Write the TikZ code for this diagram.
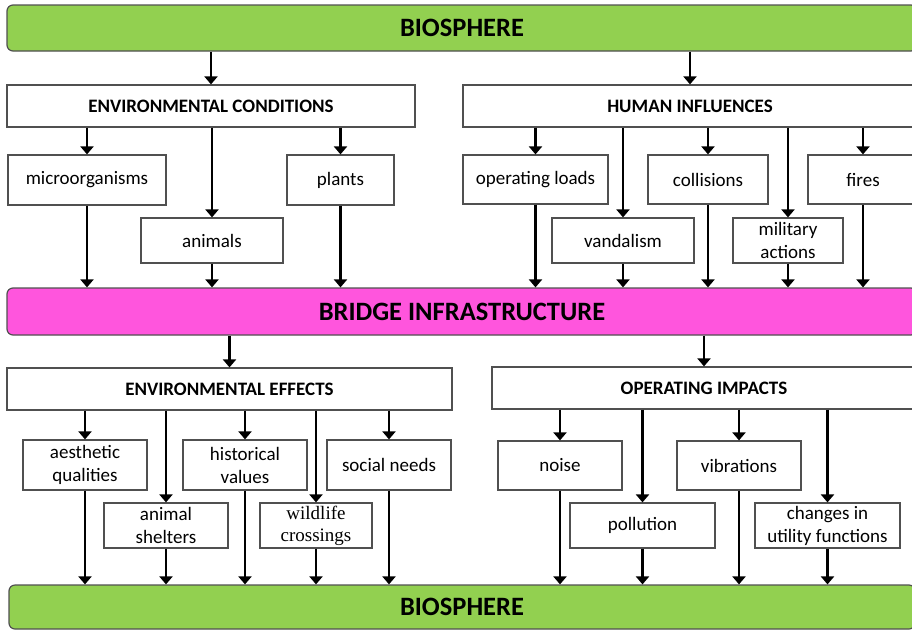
\documentclass[tikz,border=0pt]{standalone}
\usepackage{fontspec}
\setmainfont{Carlito}
\newfontfamily\serifwl{Liberation Serif}
\usepackage{tikz}
\usetikzlibrary{positioning,arrows.meta}
\definecolor{bioGreen}{HTML}{92D050}
\definecolor{bridgePink}{HTML}{FF55DD}
\definecolor{boxLine}{HTML}{505050}
\tikzset{
	bar/.style={draw=boxLine, line width=1.2pt, rounded corners=6pt, inner sep=0pt, font=\fontsize{26.5}{28}\selectfont\bfseries},
	head/.style={draw=boxLine, line width=1.2pt, fill=white, inner sep=0pt, minimum height=42pt, font=\fontsize{19}{20}\selectfont\bfseries},
	item/.style={draw=boxLine, line width=1.2pt, fill=white, inner sep=0pt, align=center, font=\fontsize{19}{23}\selectfont},
	arr/.style={line width=2.2pt, -{Triangle[width=13pt,length=8pt]}}
}

\begin{document}
\begin{tikzpicture}[x=1pt,y=-1pt]
	
	\def\rowA{179.5}
	\def\rowB{240.5}
	\def\rowC{465}
	\def\rowD{525.5}
	\useasboundingbox (0,0) rectangle (912,630);
	\fill[white] (0,0) rectangle (912,630);
	\clip (0,0) rectangle (912,630); % the right side of the boxes is cut
	
	%Barres
	\node[bar, fill=bioGreen, minimum width=910pt, minimum height=46pt] (bioTop) at (462,28) {BIOSPHERE};
	\node[bar, fill=bridgePink, minimum width=910pt, minimum height=47pt] (bridge) at (462,311.5) {BRIDGE INFRASTRUCTURE};
	\node[bar, fill=bioGreen, minimum width=906pt, minimum height=44pt] (bioBot) at (462,607) {BIOSPHERE};
	
	%En-tetes
	\node[head, minimum width=408pt] (envCond) at (211,106) {ENVIRONMENTAL CONDITIONS};
	\node[head, minimum width=454pt] (humInf) at (690,106) {HUMAN INFLUENCES};
	\node[head, minimum width=445pt] (envEff) at (229.5,389) {ENVIRONMENTAL EFFECTS};
	\node[head, minimum width=424pt] (opImp) at (704,388) {OPERATING IMPACTS};
	
	%Cases du haut
	\node[item, minimum width=158pt, minimum height=50pt] (micro) at (87,180) {microorganisms};
	\node[item, minimum width=142pt, minimum height=45pt] (anim) at (212,\rowB) {animals};
	\node[item, minimum width=107pt, minimum height=50pt] (plants) at (340.5,180) {plants};
	\node[item, minimum width=145pt, minimum height=49pt] (opLoads) at (535.5,\rowA) {operating loads};
	\node[item, minimum width=142pt, minimum height=45pt] (vand) at (623,\rowB) {vandalism};
	\node[item, minimum width=120pt, minimum height=49pt] (coll) at (708,\rowA) {collisions};
	\node[item, minimum width=110pt, minimum height=45pt] (milit) at (788,\rowB) {military\\actions};
	\node[item, minimum width=110pt, minimum height=49pt] (fires) at (863,\rowA) {fires};
	
	%Cases du bas
	\node[item, minimum width=124pt, minimum height=50pt] (aesth) at (85,\rowC) {aesthetic\\qualities};
	\node[item, minimum width=124pt, minimum height=45pt] (shelt) at (166,\rowD) {animal\\shelters};
	\node[item, minimum width=124pt, minimum height=50pt] (hist) at (245,\rowC) {historical\\values};
	\node[item, minimum width=112pt, minimum height=45pt, font=\fontsize{19}{22}\selectfont\serifwl] (wild) at (316,\rowD) {wildlife\\crossings};
	\node[item, minimum width=124pt, minimum height=50pt] (social) at (389,\rowC) {social needs};
	\node[item, minimum width=124pt, minimum height=49pt] (noise) at (560,465.5) {noise};
	\node[item, minimum width=145pt, minimum height=45pt] (poll) at (642.5,\rowD) {pollution};
	\node[item, minimum width=124pt, minimum height=49pt] (vib) at (739,465.5) {vibrations};
	\node[item, minimum width=145pt, minimum height=45pt] (chang) at (827.5,\rowD) {changes in\\utility functions};
	
	%Fleches
	\draw[arr] (bioTop.south -| envCond) -- (envCond.north);
	\draw[arr] (bioTop.south -| humInf) -- (humInf.north);
	\draw[arr] (bridge.south -| envEff) -- (envEff.north);
	\draw[arr] (bridge.south -| opImp) -- (opImp.north);
	
	\foreach \child in {micro,anim,plants}
		\draw[arr] (envCond.south -| \child.north) -- (\child.north);
	\foreach \child in {opLoads,vand,coll,milit,fires}
		\draw[arr] (humInf.south -| \child.north) -- (\child.north);
	\foreach \child in {micro,anim,plants,opLoads,vand,coll,milit,fires}
		\draw[arr] (\child.south) -- (\child.south |- bridge.north);
	
	\foreach \child in {aesth,shelt,hist,wild,social}
		\draw[arr] (envEff.south -| \child.north) -- (\child.north);
	\foreach \child in {noise,poll,vib,chang}
		\draw[arr] (opImp.south -| \child.north) -- (\child.north);
	\foreach \child in {aesth,shelt,hist,wild,social,noise,poll,vib,chang}
		\draw[arr] (\child.south) -- (\child.south |- bioBot.north);
	
\end{tikzpicture}
\end{document}
